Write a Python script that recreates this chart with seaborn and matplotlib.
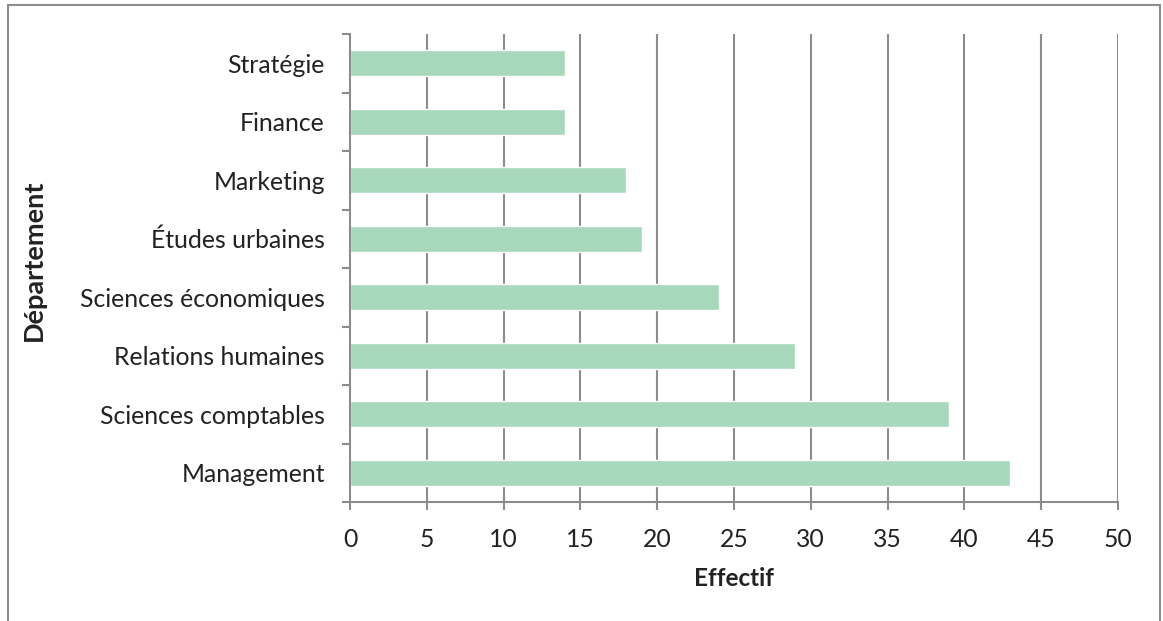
import matplotlib
matplotlib.use("Agg")
import matplotlib.pyplot as plt
from matplotlib.patches import Rectangle
from matplotlib.ticker import FixedLocator
import seaborn as sns
import pandas as pd
import numpy as np

departements = [
    "Stratégie",
    "Finance",
    "Marketing",
    "Études urbaines",
    "Sciences économiques",
    "Relations humaines",
    "Sciences comptables",
    "Management",
]
effectifs = [14, 14, 18, 19, 24, 29, 39, 43]
x_ticks = [0, 5, 10, 15, 20, 25, 30, 35, 40, 45, 50]

sns.set_theme(style="white")
plt.rcParams["font.family"] = ["Lato", "DejaVu Sans"]

grid_color = "#8c8c8c"
bar_color = "#a8d8bc"
text_color = "#222222"

df = pd.DataFrame({"Département": departements, "Effectif": effectifs})

fig = plt.figure(figsize=(11.63, 6.21), dpi=100)
ax = fig.add_axes([350 / 1163, 1 - 502 / 621, 768 / 1163, 468 / 621])

sns.barplot(data=df, y="Département", x="Effectif", orient="h",
            color=bar_color, saturation=1, width=0.45, ax=ax, zorder=3)

ax.set_xlim(0, 50)
ax.set_ylim(len(departements) - 0.5, -0.5)
ax.xaxis.set_major_locator(FixedLocator(x_ticks))
ax.set_xticklabels([str(t) for t in x_ticks])

# vertical grid lines
for t in x_ticks[1:]:
    ax.axvline(t, color=grid_color, lw=1.5, zorder=1)

for side in ["top", "right"]:
    ax.spines[side].set_visible(False)
for side in ["left", "bottom"]:
    ax.spines[side].set_color(grid_color)
    ax.spines[side].set_linewidth(1.5)
    ax.spines[side].set_zorder(4)

# category separators on the y axis as minor ticks
ax.yaxis.set_minor_locator(FixedLocator(np.arange(-0.5, len(departements), 1.0)))
ax.tick_params(axis="y", which="major", length=0, pad=18, labelsize=17.8,
               labelcolor=text_color)
ax.tick_params(axis="y", which="minor", length=6, width=1.5, color=grid_color,
               direction="out", left=True)
ax.tick_params(axis="x", which="major", length=6, width=1.5, color=grid_color,
               direction="out", bottom=True, pad=12.5, labelsize=17.8,
               labelcolor=text_color)

ax.set_xlabel("Effectif", fontsize=17.5, fontweight="bold", color=text_color,
              labelpad=12)
ax.set_ylabel("Département", fontsize=19.5, fontweight="bold", color=text_color)
ax.yaxis.set_label_coords(-(350 - 46) / 768, (502 - 260) / 468)

# outer chart border
fig.add_artist(Rectangle((8 / 1163, -0.05), (1160 - 8) / 1163, 1.05 - 5 / 621,
                         transform=fig.transFigure, fill=False,
                         edgecolor=grid_color, lw=1.5, clip_on=False))

fig.savefig("out.png", dpi=100)
